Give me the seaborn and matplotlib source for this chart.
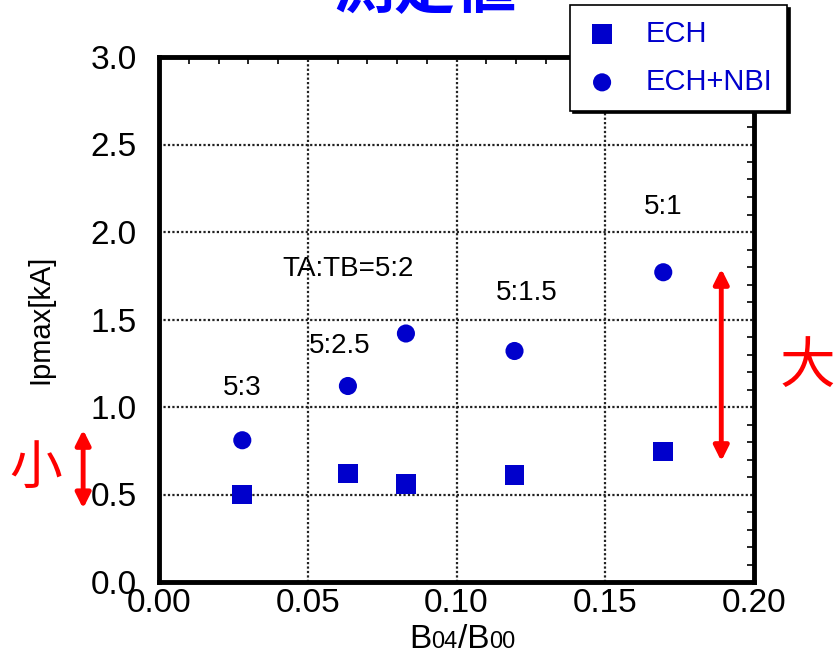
import matplotlib
matplotlib.use("Agg")
import matplotlib.pyplot as plt
import seaborn as sns
import pandas as pd
from matplotlib.ticker import MultipleLocator, FormatStrFormatter
from matplotlib.offsetbox import TextArea, HPacker, AnnotationBbox

# ---- data ----
ech_x = [0.028, 0.0635, 0.083, 0.1195, 0.1695]
ech_y = [0.50, 0.62, 0.56, 0.61, 0.745]
nbi_x = [0.028, 0.0635, 0.083, 0.1195, 0.1695]
nbi_y = [0.81, 1.12, 1.42, 1.32, 1.77]
ratio_labels = ["5:3", "5:2.5", "TA:TB=5:2", "5:1.5", "5:1"]
ratio_x = [0.028, 0.0607, 0.0634, 0.1235, 0.1695]
ratio_y = [1.11, 1.35, 1.79, 1.65, 2.14]
series_names = ["ECH", "ECH+NBI"]

sns.set_theme(style="white")
plt.rcParams['font.family'] = ['Liberation Sans', 'Noto Sans CJK JP', 'DejaVu Sans']
plt.rcParams['axes.unicode_minus'] = False
plt.rcParams['text.color'] = 'black'
plt.rcParams['axes.labelcolor'] = 'black'

BLUE = '#0000CC'
fig = plt.figure(figsize=(8.34, 6.6), dpi=100)
ax = fig.add_axes([159/834, 78/660, 595/834, 525/660])

df_ech = pd.DataFrame({'x': ech_x, 'y': ech_y})
df_nbi = pd.DataFrame({'x': nbi_x, 'y': nbi_y})
sns.scatterplot(data=df_ech, x='x', y='y', marker='s', s=200, color=BLUE,
                edgecolor='none', ax=ax, label=series_names[0], zorder=3)
sns.scatterplot(data=df_nbi, x='x', y='y', marker='o', s=170, color=BLUE,
                edgecolor='none', ax=ax, label=series_names[1], zorder=3)

ax.set_xlim(0, 0.20)
ax.set_ylim(0, 3.0)
ax.xaxis.set_major_locator(MultipleLocator(0.05))
ax.xaxis.set_minor_locator(MultipleLocator(0.01))
ax.yaxis.set_major_locator(MultipleLocator(0.5))
ax.yaxis.set_minor_locator(MultipleLocator(0.1))
ax.xaxis.set_major_formatter(FormatStrFormatter('%.2f'))
ax.yaxis.set_major_formatter(FormatStrFormatter('%.1f'))
ax.tick_params(which='both', direction='in', top=True, right=True, colors='black')
ax.tick_params(which='major', length=0, labelsize=24)
ax.tick_params(axis='x', which='major', pad=4)
ax.tick_params(axis='y', which='major', pad=16)
ax.tick_params(which='minor', length=5, width=1.2)
ax.grid(True, which='major', linestyle=(0, (1, 1)), color='#222222', linewidth=1.6)
for sp in ax.spines.values():
    sp.set_visible(True)
    sp.set_color('black')
    sp.set_linewidth(3.5)

ax.set_xlabel('')
ax.set_ylabel('Ipmax[kA]', fontsize=21, labelpad=26, color='black')

# x label with smaller digits on the baseline
parts = [TextArea("B", textprops=dict(fontsize=24, color='black')),
         TextArea("04", textprops=dict(fontsize=17, color='black')),
         TextArea("/B", textprops=dict(fontsize=24, color='black')),
         TextArea("00", textprops=dict(fontsize=17, color='black'))]
pack = HPacker(children=parts, align="baseline", pad=0, sep=0)
ab = AnnotationBbox(pack, (0.51, -0.11), xycoords='axes fraction', frameon=False,
                    box_alignment=(0.5, 0.5), annotation_clip=False)
ax.add_artist(ab)

for lab, lx, ly in zip(ratio_labels, ratio_x, ratio_y):
    ax.text(lx, ly, lab, fontsize=20, ha='center', va='center', color='black')

# red arrows and texts
RED = '#FF0000'
ax.annotate('', xy=(-0.0255, 0.42), xytext=(-0.0255, 0.87), xycoords='data',
            arrowprops=dict(arrowstyle='<|-|>', color=RED, lw=3.5, mutation_scale=22,
                            shrinkA=0, shrinkB=0), annotation_clip=False)
ax.annotate('', xy=(0.189, 0.69), xytext=(0.189, 1.79), xycoords='data',
            arrowprops=dict(arrowstyle='<|-|>', color=RED, lw=3.5, mutation_scale=22,
                            shrinkA=0, shrinkB=0), annotation_clip=False)
ax.text(-0.0416, 0.64, '小', fontsize=38, color=RED, ha='center', va='center', clip_on=False)
ax.text(0.2178, 1.22, '大', fontsize=40, color=RED, ha='center', va='center', clip_on=False)

# title cut at top
fig.text(0.51, 1 + 8/660, '測定値', fontsize=44, color='#0000FF', ha='center', va='center',
         fontweight='bold')

leg = ax.legend(loc='upper left', bbox_to_anchor=(570/834, 1 - 5/660),
                bbox_transform=fig.transFigure, frameon=True, fancybox=False,
                shadow={'color': 'black', 'alpha': 1.0}, fontsize=21, markerscale=1.0,
                borderpad=0.5, labelspacing=0.7, handlelength=1.2, handletextpad=0.9,
                borderaxespad=0)
leg.get_frame().set_edgecolor('black')
leg.get_frame().set_linewidth(1.2)
for t in leg.get_texts():
    t.set_color(BLUE)
leg.set_zorder(10)

fig.savefig('out.png', dpi=100)
